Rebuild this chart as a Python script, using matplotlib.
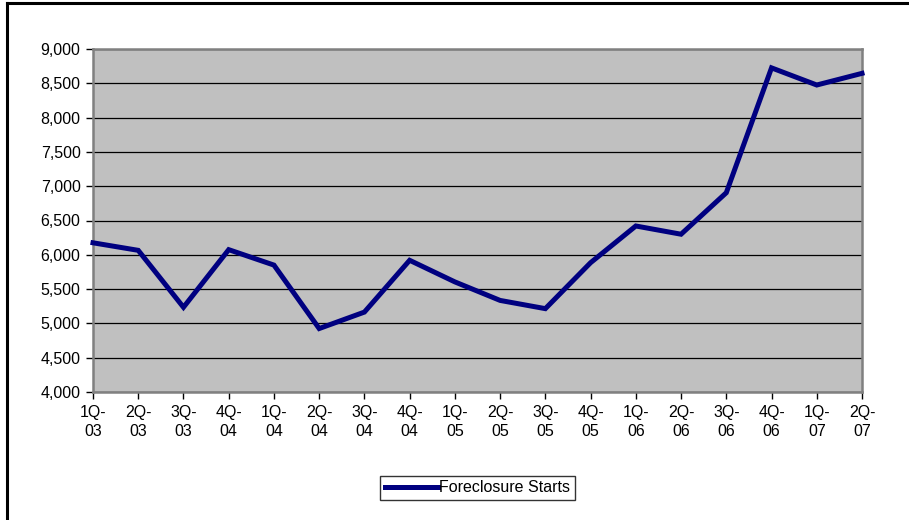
import matplotlib
matplotlib.use("Agg")
import matplotlib.pyplot as plt
from matplotlib.lines import Line2D
import numpy as np

quarters = ["1Q-03", "2Q-03", "3Q-03", "4Q-04", "1Q-04", "2Q-04", "3Q-04", "4Q-04",
            "1Q-05", "2Q-05", "3Q-05", "4Q-05", "1Q-06", "2Q-06", "3Q-06", "4Q-06",
            "1Q-07", "2Q-07"]
foreclosure_starts = [6175, 6065, 5235, 6075, 5850, 4925, 5165, 5920,
                      5605, 5335, 5215, 5885, 6420, 6300, 6905, 8725,
                      8475, 8645]
yticks = np.arange(4000, 9001, 500)

plt.rcParams.update({
    "font.family": ["Liberation Sans", "DejaVu Sans"],
    "font.size": 11.5,
})

W, H = 909, 520
fig = plt.figure(figsize=(W / 100, H / 100), dpi=100)
ax = fig.add_axes([93 / W, 1 - 392 / H, (862 - 93) / W, (392 - 49) / H])

x = np.arange(len(quarters))
ax.plot(x, foreclosure_starts, color="#000080", linewidth=3.6,
        solid_joinstyle="miter", label="Foreclosure Starts", clip_on=False, zorder=3)

ax.set_facecolor("#C0C0C0")
ax.set_xlim(0, len(quarters) - 1)
ax.set_ylim(4000, 9000)
ax.set_yticks(yticks)
ax.set_yticklabels([f"{v:,}" for v in yticks])
ax.set_xticks(x)
ax.set_xticklabels([q.replace("-", "-\n") for q in quarters], linespacing=1.4)
ax.yaxis.grid(True, color="black", linewidth=0.9)
ax.set_axisbelow(True)
for s in ax.spines.values():
    s.set_color("#808080")
    s.set_linewidth(1.8)
ax.tick_params(axis="both", direction="out", length=5, width=1, color="black",
               labelcolor="black", pad=4)

leg = ax.legend(loc="center", bbox_to_anchor=(477.5 / W, 1 - 488 / H),
                bbox_transform=fig.transFigure, frameon=True, fancybox=False,
                handlelength=3.3, handletextpad=0.1, borderpad=0.3,
                borderaxespad=0)
leg.get_frame().set_edgecolor("black")
leg.get_frame().set_linewidth(1.0)

# outer chart border (left and top visible)
fig.add_artist(Line2D([6.5 / W, 6.5 / W], [0, 1 - 2.5 / H], color="black",
                      linewidth=2.2, transform=fig.transFigure))
fig.add_artist(Line2D([6.5 / W, 1], [1 - 2.5 / H, 1 - 2.5 / H], color="black",
                      linewidth=2.2, transform=fig.transFigure))

fig.savefig("out.png", dpi=100)
